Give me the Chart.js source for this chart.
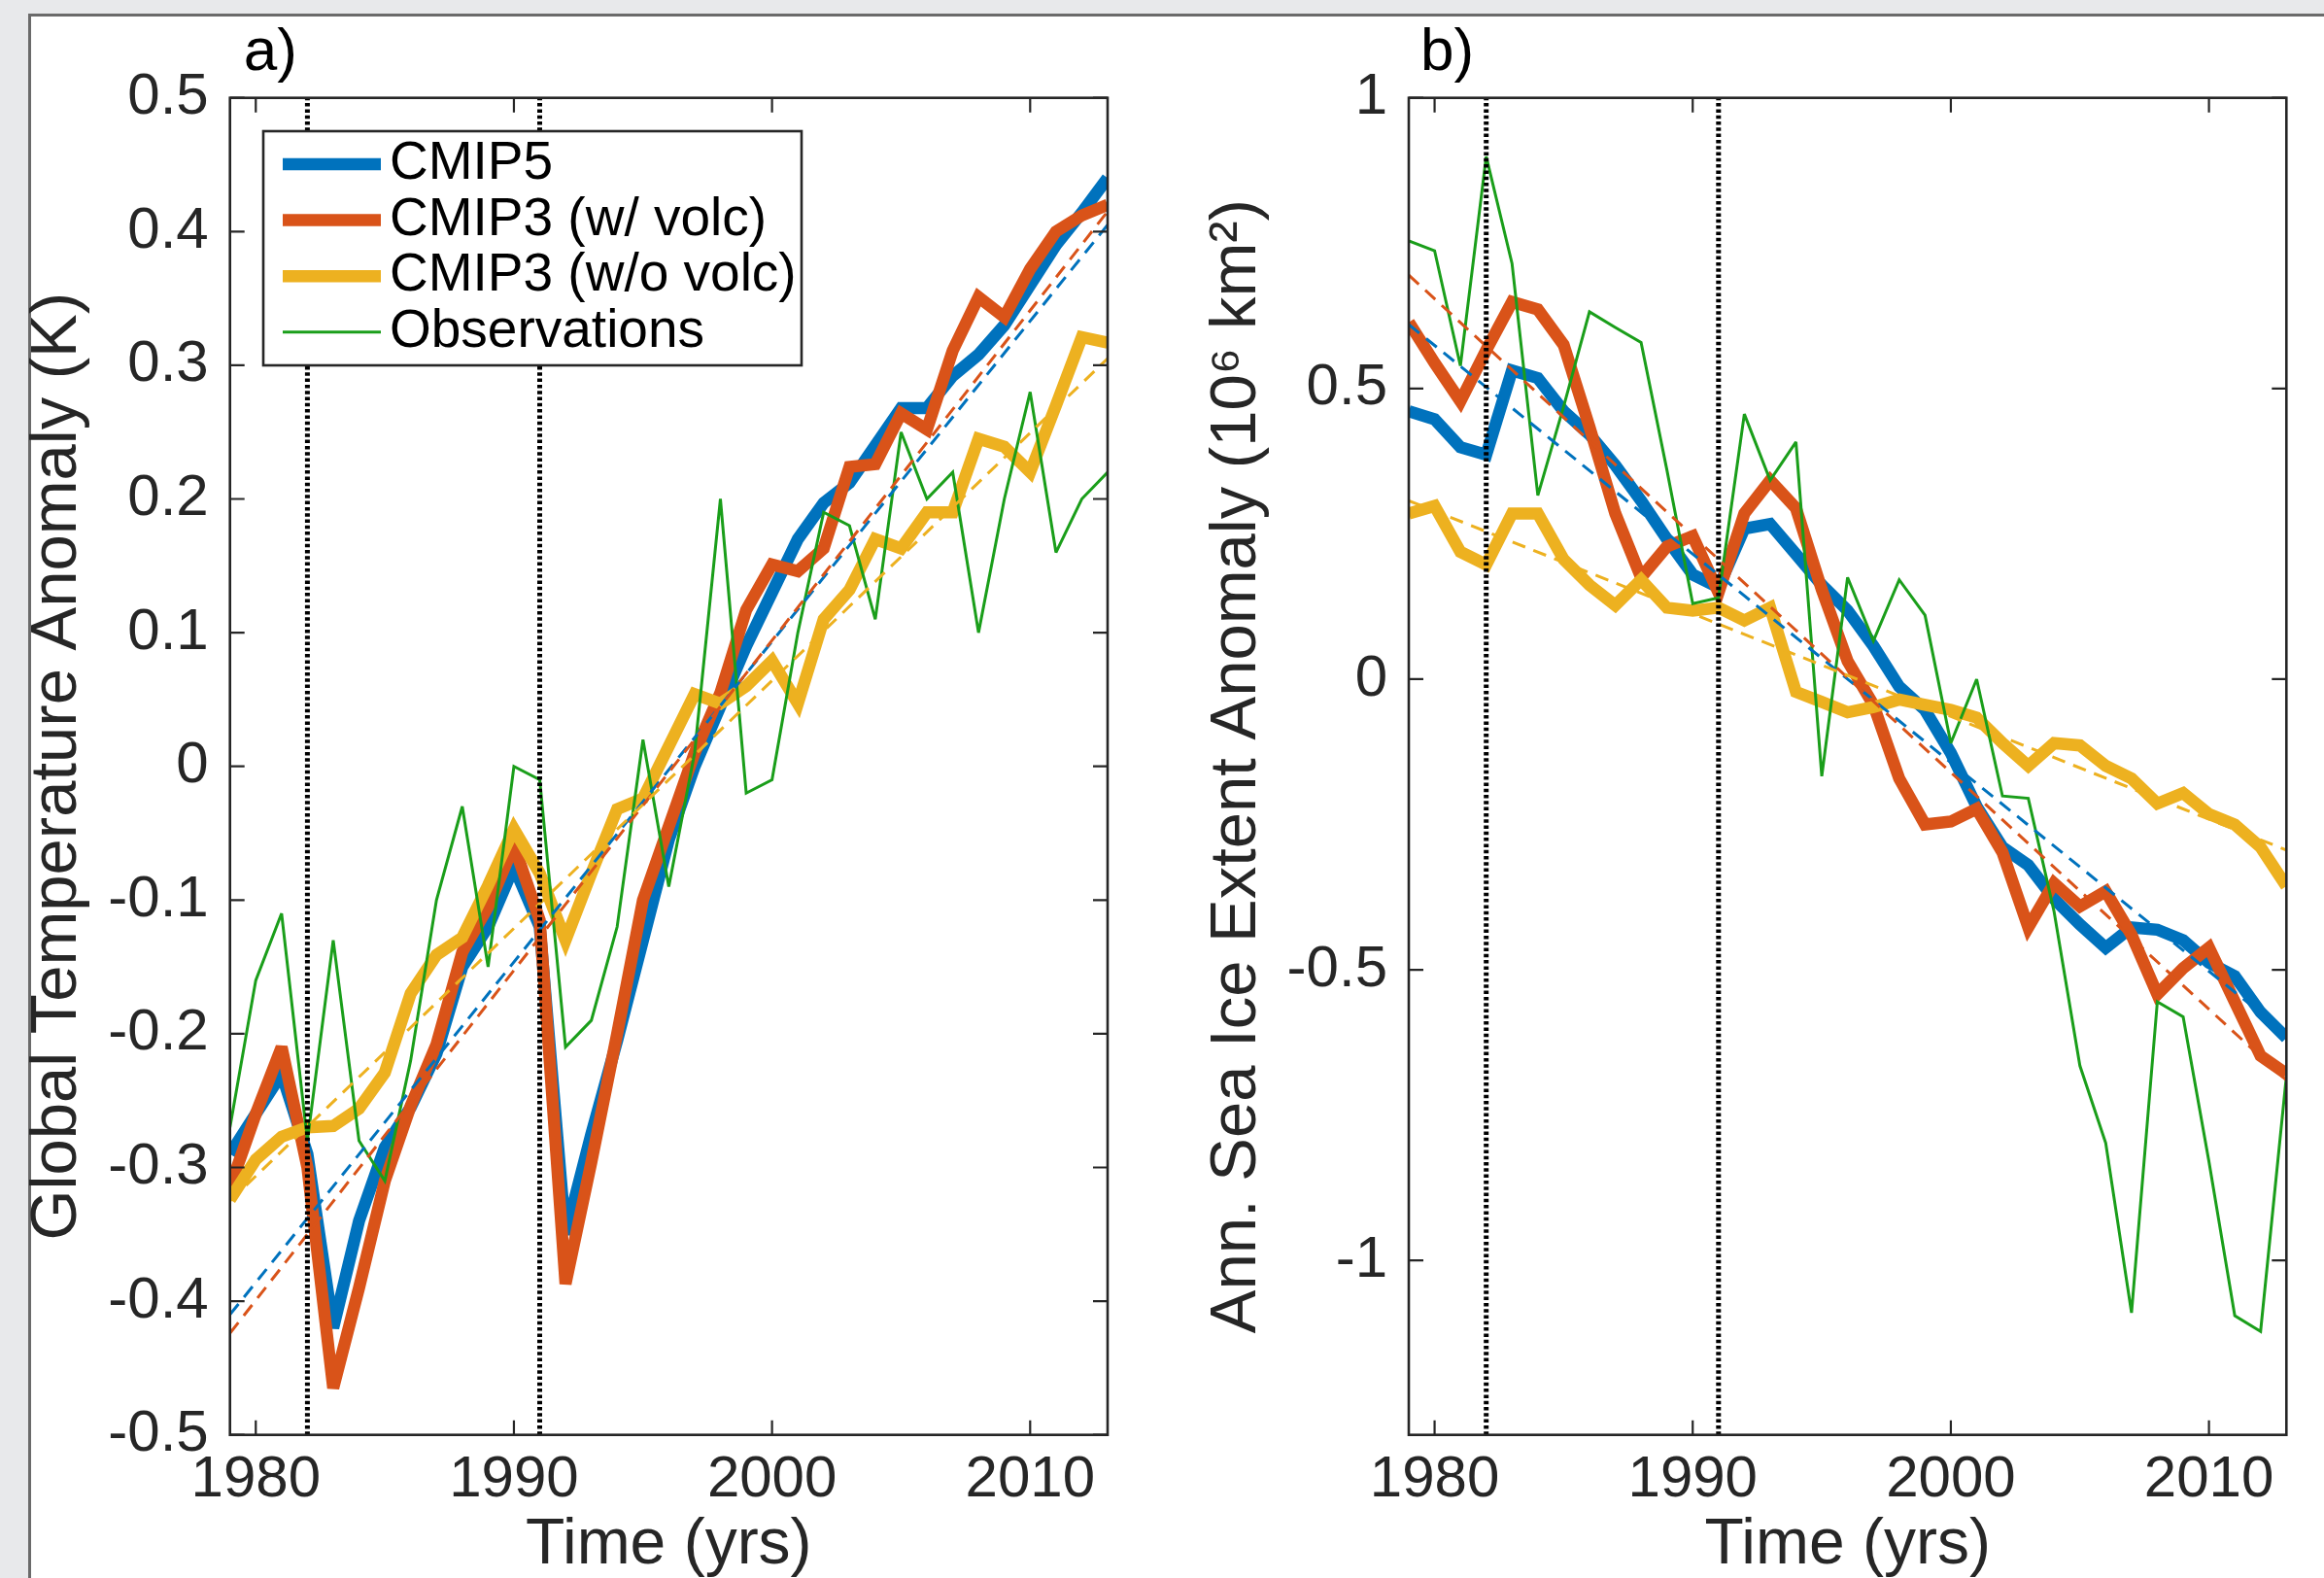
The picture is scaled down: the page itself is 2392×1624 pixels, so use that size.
<!DOCTYPE html>
<html>
<head>
<meta charset="utf-8">
<script src="https://cdn.jsdelivr.net/npm/chart.js@4.4.1/dist/chart.umd.min.js"></script>
<style>
html,body{margin:0;padding:0;width:2392px;height:1624px;overflow:hidden;background:#e8e9eb;}
#sheet{position:absolute;left:29px;top:14px;width:2400px;height:1700px;background:#fff;border-left:3px solid #6a6a6a;border-top:3px solid #6a6a6a;}
canvas{position:absolute;top:0;}
#cA{left:0;}
#cB{left:1200px;}
</style>
</head>
<body>
<div id="sheet"></div>
<canvas id="cA" width="1200" height="1630" style="width:1200px;height:1630px"></canvas>
<canvas id="cB" width="1192" height="1630" style="width:1192px;height:1630px"></canvas>
<script>
// ---------- data ----------
const years = [1979,1980,1981,1982,1983,1984,1985,1986,1987,1988,1989,1990,1991,1992,1993,1994,1995,1996,1997,1998,1999,2000,2001,2002,2003,2004,2005,2006,2007,2008,2009,2010,2011,2012,2013];
const seriesLabels = ['CMIP5', 'CMIP3 (w/ volc)', 'CMIP3 (w/o volc)', 'Observations'];

// panel a: global temperature anomaly (K)
const tempCMIP5    = [-0.29,-0.26,-0.23,-0.29,-0.42,-0.34,-0.285,-0.255,-0.215,-0.15,-0.12,-0.075,-0.12,-0.35,-0.275,-0.205,-0.13,-0.055,0.0,0.045,0.09,0.13,0.17,0.197,0.212,0.24,0.268,0.268,0.292,0.308,0.33,0.36,0.39,0.414,0.44];
const tempCMIP3v   = [-0.315,-0.26,-0.21,-0.30,-0.465,-0.39,-0.31,-0.254,-0.208,-0.139,-0.105,-0.059,-0.115,-0.387,-0.296,-0.20,-0.10,-0.045,0.01,0.055,0.117,0.151,0.146,0.163,0.224,0.226,0.264,0.252,0.311,0.351,0.336,0.372,0.40,0.412,0.42];
const tempCMIP3nv  = [-0.324,-0.294,-0.277,-0.27,-0.269,-0.256,-0.229,-0.17,-0.141,-0.128,-0.089,-0.047,-0.08,-0.13,-0.08,-0.032,-0.024,0.015,0.054,0.047,0.06,0.079,0.047,0.11,0.132,0.17,0.163,0.19,0.19,0.245,0.239,0.22,0.27,0.321,0.317];
const tempObs      = [-0.27,-0.16,-0.11,-0.28,-0.13,-0.28,-0.31,-0.22,-0.10,-0.03,-0.15,0.0,-0.01,-0.21,-0.19,-0.12,0.02,-0.09,0.01,0.20,-0.02,-0.01,0.10,0.19,0.18,0.11,0.25,0.20,0.22,0.10,0.20,0.28,0.16,0.20,0.22];
// linear trend lines: values at the first and last year
const trendYears   = [1979, 2013];
const tempTrendCMIP5   = [-0.41, 0.405];
const tempTrendCMIP3v  = [-0.424, 0.415];
const tempTrendCMIP3nv = [-0.325, 0.305];

// panel b: annual sea ice extent anomaly (10^6 km^2)
const iceCMIP5   = [0.461,0.447,0.399,0.386,0.531,0.518,0.461,0.421,0.368,0.307,0.241,0.18,0.158,0.259,0.267,0.215,0.162,0.118,0.057,-0.013,-0.053,-0.127,-0.219,-0.289,-0.32,-0.378,-0.422,-0.462,-0.427,-0.431,-0.449,-0.488,-0.511,-0.573,-0.617];
const iceCMIP3v  = [0.614,0.544,0.478,0.566,0.649,0.636,0.575,0.434,0.285,0.175,0.228,0.246,0.149,0.285,0.342,0.294,0.154,0.031,-0.044,-0.171,-0.25,-0.245,-0.223,-0.298,-0.427,-0.351,-0.391,-0.365,-0.44,-0.542,-0.497,-0.462,-0.555,-0.648,-0.679];
const iceCMIP3nv = [0.285,0.298,0.219,0.197,0.285,0.285,0.206,0.162,0.127,0.171,0.123,0.118,0.123,0.101,0.123,-0.022,-0.039,-0.057,-0.048,-0.035,-0.044,-0.053,-0.066,-0.11,-0.149,-0.11,-0.114,-0.149,-0.171,-0.214,-0.196,-0.232,-0.25,-0.289,-0.356];
const iceObs     = [0.754,0.737,0.539,0.899,0.715,0.316,0.469,0.632,0.605,0.579,0.36,0.13,0.14,0.456,0.342,0.408,-0.167,0.175,0.066,0.171,0.11,-0.11,0.0,-0.201,-0.205,-0.40,-0.665,-0.798,-1.09,-0.555,-0.581,-0.83,-1.095,-1.122,-0.683];
const iceTrendCMIP5   = [0.61, -0.61];
const iceTrendCMIP3v  = [0.695, -0.69];
const iceTrendCMIP3nv = [0.307, -0.294];

// volcanic eruption years (El Chichon, Pinatubo)
const volcanoYears = [1982, 1991];

// axes
const xRange = [1979, 2013];
const xTickYears = [1980, 1990, 2000, 2010];
const yRangeA = [-0.5, 0.5];
const yTicksA = [-0.5,-0.4,-0.3,-0.2,-0.1,0,0.1,0.2,0.3,0.4,0.5];
const yTickLabelsA = ['-0.5','-0.4','-0.3','-0.2','-0.1','0','0.1','0.2','0.3','0.4','0.5'];
const yRangeB = [-1.3, 1];
const yTicksB = [-1,-0.5,0,0.5,1];
const yTickLabelsB = ['-1','-0.5','0','0.5','1'];

// ---------- styling ----------
const FONT = "'Liberation Sans', Arial, Helvetica, sans-serif";
const C_BLUE = '#0072BD', C_RED = '#D95319', C_YEL = '#EDB120', C_GRN = '#1a9e1a';
const TXT = '#262626';

function pts(arr){ return years.map((yr,i)=>({x:yr, y:arr[i]})); }
function trendPts(tr){ return trendYears.map((yr,i)=>({x:yr, y:tr[i]})); }
function vlinePts(yr, range){ return range.map(v=>({x:yr, y:v})); }

function buildDatasets(m5, m3v, m3nv, obs, t5, t3v, t3nv, yRange){
  const thick = 12.5;
  const ds = [
    {label:seriesLabels[0], data:pts(m5),   borderColor:C_BLUE, borderWidth:thick, order:9, legend:true},
    {label:seriesLabels[1], data:pts(m3v),  borderColor:C_RED,  borderWidth:thick, order:8, legend:true},
    {label:seriesLabels[2], data:pts(m3nv), borderColor:C_YEL,  borderWidth:thick, order:7, legend:true},
    {label:seriesLabels[3], data:pts(obs),  borderColor:C_GRN,  borderWidth:3,     order:6, legend:true},
    {label:'trend CMIP5', data:trendPts(t5),   borderColor:C_BLUE, borderWidth:3, borderDash:[14,9], order:5},
    {label:'trend CMIP3 volc', data:trendPts(t3v),  borderColor:C_RED,  borderWidth:3, borderDash:[14,9], order:4},
    {label:'trend CMIP3 novolc', data:trendPts(t3nv), borderColor:C_YEL,  borderWidth:3, borderDash:[14,9], order:3}
  ];
  volcanoYears.forEach((vy)=>{
    ds.push({label:'volcano '+vy, data:vlinePts(vy, yRange), borderColor:'#000', borderWidth:5, borderDash:[3.5,2.8], order:1});
  });
  ds.forEach(d=>{ d.pointRadius=0; d.pointHoverRadius=0; d.tension=0; d.fill=false; d.clip=0; d.borderCapStyle='butt'; });
  return ds;
}

const deco = {
  id:'deco',
  beforeDatasetsDraw(chart){ chart.ctx.save(); chart.ctx.miterLimit = 3; },
  afterDatasetsDraw(chart){ chart.ctx.restore(); },
  afterDraw(chart, args, o){
    const ctx = chart.ctx, a = chart.chartArea, xs = chart.scales.x, ys = chart.scales.y;
    ctx.save();
    // inward ticks on all four sides
    ctx.strokeStyle = TXT; ctx.lineWidth = 2.2; ctx.setLineDash([]);
    const L = 15;
    ctx.beginPath();
    xs.ticks.forEach(t=>{ const p = xs.getPixelForValue(t.value);
      ctx.moveTo(p, a.bottom); ctx.lineTo(p, a.bottom-L); ctx.moveTo(p, a.top); ctx.lineTo(p, a.top+L); });
    ys.ticks.forEach(t=>{ const p = ys.getPixelForValue(t.value);
      ctx.moveTo(a.left, p); ctx.lineTo(a.left+L, p); ctx.moveTo(a.right, p); ctx.lineTo(a.right-L, p); });
    ctx.stroke();
    // box
    ctx.lineWidth = 2.6;
    ctx.strokeRect(a.left, a.top, a.right-a.left, a.bottom-a.top);
    // panel label
    ctx.fillStyle = '#000';
    ctx.font = '62px ' + FONT;
    ctx.textAlign = 'left'; ctx.textBaseline = 'alphabetic';
    ctx.fillText(o.label, a.left + o.labelDx, a.top - 29);
    // legend
    if (o.legend) {
      const bx = a.left + 34.3, by = a.top + 34.3, bw = 554, bh = 241;
      ctx.fillStyle = '#fff';
      ctx.fillRect(bx, by, bw, bh);
      ctx.strokeStyle = TXT; ctx.lineWidth = 2.6;
      ctx.strokeRect(bx, by, bw, bh);
      const items = chart.data.datasets.filter(d=>d.legend);
      ctx.font = '55px ' + FONT;
      ctx.textBaseline = 'middle';
      items.forEach((d,i)=>{
        const yy = by + 34 + i*57.6;
        ctx.strokeStyle = d.borderColor; ctx.lineWidth = d.borderWidth; ctx.lineCap = 'butt';
        ctx.beginPath(); ctx.moveTo(bx+20, yy); ctx.lineTo(bx+121, yy); ctx.stroke();
        ctx.fillStyle = '#000';
        ctx.fillText(d.label, bx+130, yy);
      });
    }
    ctx.restore();
  }
};

function makeOptions(cfg){
  return {
    responsive:false, animation:false, devicePixelRatio:1,
    events:[],
    layout:{padding:{left:0, top:100.7, right:cfg.padRight, bottom:0}},
    plugins:{legend:{display:false}, tooltip:{enabled:false},
      deco:{label:cfg.label, labelDx:cfg.labelDx, legend:cfg.legend}},
    scales:{
      x:{
        type:'linear', min:xRange[0], max:xRange[1],
        afterBuildTicks:(s)=>{ s.ticks = xTickYears.map(v=>({value:v})); },
        afterFit:(s)=>{ s.height = 153.3; },
        grid:{display:false, drawTicks:false},
        border:{display:false},
        ticks:{font:{family:FONT, size:60}, color:TXT, padding:11, maxRotation:0, autoSkip:false,
               callback:(v)=>String(v)},
        title:{display:true, text:'Time (yrs)', font:{family:FONT, size:66}, color:TXT, padding:{top:0, bottom:0}}
      },
      y:{
        type:'linear', min:cfg.yRange[0], max:cfg.yRange[1],
        afterBuildTicks:(s)=>{ s.ticks = cfg.yTicks.map(v=>({value:v})); },
        afterFit:(s)=>{ s.width = cfg.yWidth; },
        grid:{display:false, drawTicks:false},
        border:{display:false},
        ticks:{font:{family:FONT, size:60}, color:TXT, padding:22, autoSkip:false,
               callback:(v)=>{ const i = cfg.yTicks.indexOf(v); return i >= 0 ? cfg.yLabels[i] : ''; }},
        title:{display:true, text:cfg.yTitle, font:{family:FONT, size:67}, color:TXT, padding:{top:cfg.yTitlePad, bottom:0}}
      }
    }
  };
}

new Chart(document.getElementById('cA'), {
  type:'line',
  data:{datasets:buildDatasets(tempCMIP5, tempCMIP3v, tempCMIP3nv, tempObs, tempTrendCMIP5, tempTrendCMIP3v, tempTrendCMIP3nv, yRangeA)},
  options:makeOptions({padRight:60, label:'a)', labelDx:14, legend:true, yRange:yRangeA, yTicks:yTicksA, yLabels:yTickLabelsA,
    yWidth:236.7, yTitle:'Global Temperature Anomaly (K)', yTitlePad:19.6}),
  plugins:[deco]
});

new Chart(document.getElementById('cB'), {
  type:'line',
  data:{datasets:buildDatasets(iceCMIP5, iceCMIP3v, iceCMIP3nv, iceObs, iceTrendCMIP5, iceTrendCMIP3v, iceTrendCMIP3nv, yRangeB)},
  options:makeOptions({padRight:38.7, label:'b)', labelDx:12, legend:false, yRange:yRangeB, yTicks:yTicksB, yLabels:yTickLabelsB,
    yWidth:250, yTitle:'Ann. Sea Ice Extent Anomaly (10\u2076 km\u00B2)', yTitlePad:32.9}),
  plugins:[deco]
});
</script>
</body>
</html>
